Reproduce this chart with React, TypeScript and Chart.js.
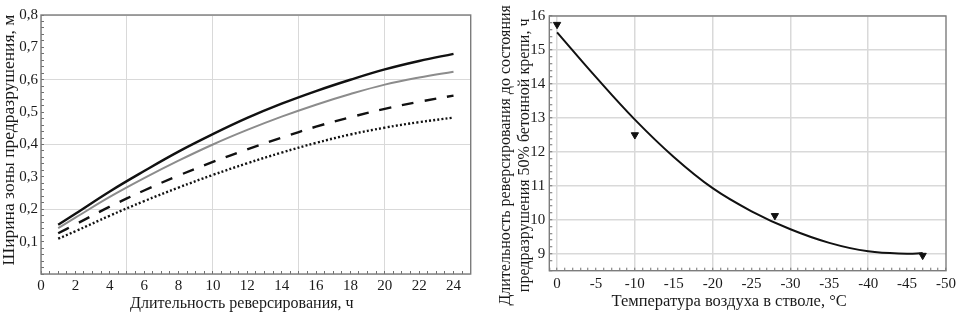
import React, { useEffect, useRef } from 'react';
import { Chart, registerables } from 'chart.js';

Chart.register(...registerables);

// ---- Left chart data ----
const hours = [1, 2, 4, 6, 8, 10, 12, 14, 16, 18, 20, 22, 24];
const widthSolid = [0.152, 0.186, 0.255, 0.318, 0.378, 0.432, 0.482, 0.526, 0.565, 0.6, 0.632, 0.658, 0.68];
const widthGray = [0.142, 0.174, 0.238, 0.296, 0.35, 0.4, 0.445, 0.486, 0.523, 0.556, 0.585, 0.607, 0.625];
const widthDashed = [0.126, 0.153, 0.208, 0.258, 0.304, 0.346, 0.385, 0.421, 0.455, 0.484, 0.51, 0.532, 0.551];
const widthDotted = [0.109, 0.132, 0.18, 0.225, 0.267, 0.306, 0.342, 0.375, 0.405, 0.431, 0.452, 0.469, 0.483];

// ---- Right chart data ----
const tempFit = [0, -5, -10, -15, -20, -25, -30, -35, -40, -45, -47];
const durationFit = [15.52, 14.2, 12.95, 11.85, 10.93, 10.25, 9.72, 9.32, 9.07, 9.0, 9.02];
const tempMeasured = [0, -10, -28, -47];
const durationMeasured = [15.75, 12.5, 10.12, 8.95];

const FONT = 'Liberation Serif';
const TEXT = '#1a1a1a';
const TICK = '#6f6f6f';
const GRID = '#d9d9d9';
const NONE = 'rgba(0,0,0,0)';
const NB = '\u00A0';

const framePlugin = {
  id: 'frame',
  afterDatasetsDraw(chart: any) {
    const { ctx, chartArea: a } = chart;
    ctx.save();
    ctx.strokeStyle = '#7c7c7c';
    ctx.lineWidth = 1.4;
    ctx.strokeRect(a.left, a.top, a.right - a.left, a.bottom - a.top);
    ctx.restore();
  },
};

const pts = (xs: number[], ys: number[]) => xs.map((x, i) => ({ x, y: ys[i] }));

function LeftChart() {
  const ref = useRef<HTMLCanvasElement>(null);
  useEffect(() => {
    const chart = new Chart(ref.current as HTMLCanvasElement, {
      type: 'line',
      data: {
        datasets: [
          { data: pts(hours, widthSolid), borderColor: '#111', borderWidth: 2.4, pointRadius: 0, tension: 0.4 },
          { data: pts(hours, widthGray), borderColor: '#8c8c8c', borderWidth: 2, pointRadius: 0, tension: 0.4 },
          { data: pts(hours, widthDashed), borderColor: '#111', borderWidth: 2.4, borderDash: [12, 11], pointRadius: 0, tension: 0.4 },
          { data: pts(hours, widthDotted), borderColor: '#111', borderWidth: 2.4, borderDash: [2, 2.2], pointRadius: 0, tension: 0.4 },
        ] as any,
      },
      options: {
        animation: false,
        responsive: false,
        layout: { padding: { top: 8, right: 9.3, left: 0, bottom: 0 } },
        plugins: { legend: { display: false }, tooltip: { enabled: false } },
        scales: {
          x: {
            type: 'linear', min: 0, max: 25,
            afterFit: (s: any) => { s.height = 41; },
            border: { display: false },
            grid: {
              color: (c: any) => (c.tick && c.tick.value % 5 === 0 ? GRID : NONE),
              tickColor: TICK, tickLength: -3, tickWidth: 1, lineWidth: 1,
            },
            ticks: {
              stepSize: 0.5, autoSkip: false, maxRotation: 0, padding: 6, color: TEXT,
              font: { family: FONT, size: 15 },
              callback: (v: any) => (v % 2 === 0 && v <= 24 ? String(v) : ''),
            },
            title: {
              display: true, text: 'Длительность реверсирования, ч' + NB.repeat(7), color: TEXT,
              font: { family: FONT, size: 16 }, padding: { top: 0, bottom: 2 },
            },
          },
          y: {
            type: 'linear', min: 0, max: 0.8,
            afterFit: (s: any) => { s.width = 41; },
            border: { display: false },
            grid: {
              color: (c: any) => (c.tick && Math.round(c.tick.value * 100) % 20 === 0 ? GRID : NONE),
              tickColor: TICK, tickLength: -3, tickWidth: 1, lineWidth: 1,
            },
            ticks: {
              stepSize: 0.02, autoSkip: false, padding: 6, color: TEXT,
              font: { family: FONT, size: 15 },
              callback: (v: any) => {
                const n = Math.round(v * 100);
                return n % 10 === 0 && n > 0 ? (n / 100).toFixed(1).replace('.', ',') : '';
              },
            },
            title: {
              display: true, text: NB.repeat(2) + 'Ширина зоны предразрушения, м', color: TEXT,
              font: { family: FONT, size: 17.5 }, padding: { top: -1, bottom: 0 },
            },
          },
        },
      } as any,
      plugins: [framePlugin],
    });
    return () => chart.destroy();
  }, []);
  return <canvas ref={ref} width={480} height={315} style={{ width: 480, height: 315, display: 'block' }} />;
}

function RightChart() {
  const ref = useRef<HTMLCanvasElement>(null);
  useEffect(() => {
    const chart = new Chart(ref.current as HTMLCanvasElement, {
      type: 'line',
      data: {
        datasets: [
          { data: pts(tempFit, durationFit), borderColor: '#111', borderWidth: 2, pointRadius: 0, tension: 0.4 },
          {
            data: pts(tempMeasured, durationMeasured), showLine: false, pointStyle: 'triangle', rotation: 180,
            pointRadius: 4.2, backgroundColor: '#111', borderColor: '#111', borderWidth: 1,
          },
        ] as any,
      },
      options: {
        animation: false,
        responsive: false,
        layout: { padding: { top: 11.7, right: 12.3, left: 0, bottom: 0 } },
        plugins: { legend: { display: false }, tooltip: { enabled: false } },
        scales: {
          x: {
            type: 'linear', min: -50, max: 1, reverse: true,
            afterFit: (s: any) => { s.height = 44.3; },
            border: { display: false },
            grid: {
              color: (c: any) => (c.tick && c.tick.value % 10 === 0 && c.tick.value <= 0 && c.tick.value > -50 ? GRID : NONE),
              tickColor: TICK, tickLength: -3, tickWidth: 1, lineWidth: 1.5,
            },
            ticks: {
              stepSize: 1, autoSkip: false, maxRotation: 0, padding: 7, color: TEXT,
              font: { family: FONT, size: 15 },
              callback: (v: any) => (v % 5 === 0 && v <= 0 ? String(v) : ''),
            },
            title: {
              display: true, text: 'Температура воздуха в стволе, °C' + NB.repeat(9), color: TEXT,
              font: { family: FONT, size: 16.5 }, padding: { top: 0, bottom: 3 },
            },
          },
          y: {
            type: 'linear', min: 8.5, max: 16,
            afterFit: (s: any) => { s.width = 69.3; },
            border: { display: false },
            grid: {
              color: (c: any) => (c.tick && Math.abs(c.tick.value - Math.round(c.tick.value)) < 1e-6 ? GRID : NONE),
              tickColor: TICK, tickLength: -3, tickWidth: 1, lineWidth: 1.5,
            },
            ticks: {
              stepSize: 0.2, autoSkip: false, padding: 7, color: TEXT,
              font: { family: FONT, size: 15 },
              callback: (v: any) => (Math.abs(v - Math.round(v)) < 1e-6 ? String(Math.round(v)) : ''),
            },
            title: {
              display: true,
              text: [
                'Длительность реверсирования до состояния' + NB.repeat(6),
                'предразрушения 50% бетонной крепи, ч' + NB.repeat(6),
              ],
              color: TEXT, font: { family: FONT, size: 16 }, padding: { top: 16, bottom: 0 },
            },
          },
        },
      } as any,
      plugins: [framePlugin],
    });
    return () => chart.destroy();
  }, []);
  return <canvas ref={ref} width={483} height={315} style={{ width: 483, height: 315, display: 'block' }} />;
}

export default function App() {
  return (
    <div style={{ position: 'fixed', left: 0, top: 0, width: 963, height: 315, background: '#fff' }}>
      <div style={{ position: 'absolute', left: 0, top: 0 }}>
        <LeftChart />
      </div>
      <div style={{ position: 'absolute', left: 480, top: 0 }}>
        <RightChart />
      </div>
    </div>
  );
}
